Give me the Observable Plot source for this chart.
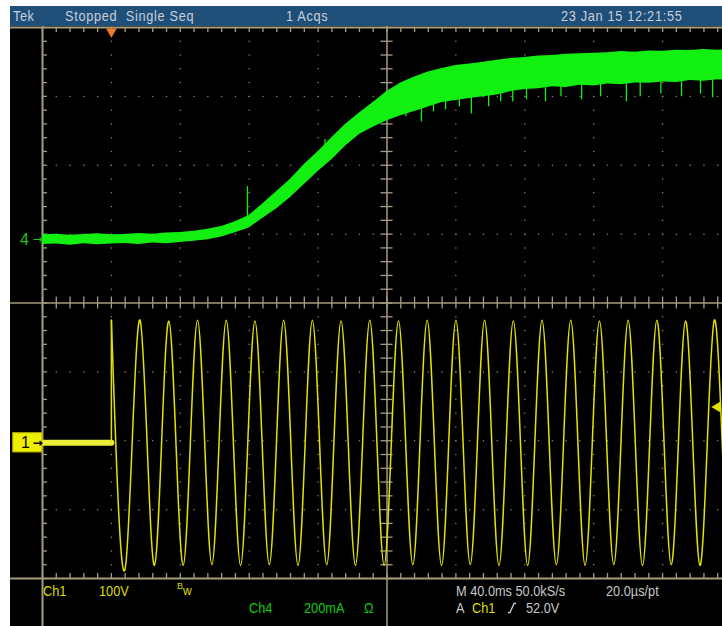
<!DOCTYPE html>
<html><head><meta charset="utf-8">
<script src="https://cdn.jsdelivr.net/npm/d3@7"></script>
<script src="https://cdn.jsdelivr.net/npm/@observablehq/plot@0.6"></script>
<style>
body{margin:0;background:#fff;width:722px;height:626px;overflow:hidden;position:relative;font-family:"Liberation Sans",Arial,sans-serif;}
#hdr{position:absolute;left:10px;top:6px;width:712px;height:20px;background:#1f4e79;}
#plot{position:absolute;left:10px;top:26px;width:712px;height:600px;background:#000;overflow:hidden;}
.t{position:absolute;font-size:15px;line-height:15px;white-space:pre;transform:scaleX(0.85);transform-origin:0 50%;}
</style></head><body>
<div id="hdr"></div>
<div id="plot"></div>
<script>
// ---- Channel 4 (current, mA) : envelope of the noisy trace ----
const ch4Time  = [-40, -32, -24, -16, -8, 0, 8, 16, 24, 32, 40, 48, 56, 64, 72, 80, 88, 96, 104, 112, 120, 128, 136, 144, 152, 160, 168, 176, 184, 192, 200, 208, 216, 224, 232, 240, 248, 256, 264, 272, 280, 288, 296, 304, 312, 320, 328, 336, 344, 352, 360];
const ch4Upper = [14, 16, 13, 15, 17, 14, 15, 18, 16, 19, 21, 24, 30, 38, 52, 70, 104, 140, 175, 218, 255, 296, 335, 368, 398, 430, 455, 472, 487, 497, 506, 510, 515, 521, 526, 529, 533, 535, 538, 540, 541, 543, 546, 544, 548, 547, 550, 549, 552, 550, 552];
const ch4Lower = [-14, -13, -16, -12, -15, -13, -11, -14, -10, -12, -8, -5, 0, 8, 20, 34, 62, 90, 122, 160, 198, 232, 272, 305, 326, 345, 360, 372, 385, 398, 404, 410, 415, 420, 430, 436, 438, 444, 442, 448, 446, 452, 450, 455, 454, 458, 456, 462, 460, 464, 462];
// noise spikes on channel 4
const spikeTime = [79, 124, 141, 171, 180, 187, 194, 202, 209, 219, 226, 233, 241, 252, 261, 273, 284, 299, 307, 319, 331, 342, 349];
const spikeLow  = [67, 250, 299, 357, 342, 371, 377, 386, 365, 386, 400, 400, 406, 400, 415, 406, 415, 400, 415, 423, 415, 423, 412];
const spikeHigh = [154, 290, 340, 440, 460, 470, 480, 490, 490, 500, 505, 510, 515, 520, 525, 530, 530, 535, 540, 540, 540, 545, 545];

// ---- Channel 1 (voltage, V) ----
const ch1PreTime = [-40, 0];
const ch1PreVolt = [0, 0];
const ch1PeakTime = [0, 8.33, 16.67, 25, 33.33, 41.67, 50, 58.33, 66.67, 75, 83.33, 91.67, 100, 108.33, 116.67, 125, 133.33, 141.67, 150, 158.33, 166.67, 175, 183.33, 191.67, 200, 208.33, 216.67, 225, 233.33, 241.67, 250, 258.33, 266.67, 275, 283.33, 291.67, 300, 308.33, 316.67, 325, 333.33, 341.67, 350, 358.33, 366.67];
const ch1PeakVolt = [178, -177, 178, -178, 177, -178, 178, -177, 178, -178, 177, -177, 178, -178, 178, -177, 177, -178, 178, -178, 177, -177, 178, -178, 178, -177, 178, -178, 177, -178, 178, -177, 178, -178, 177, -177, 178, -178, 178, -177, 177, -178, 178, -178, 177];

// ---- scope settings ----
const ch1VoltsPerDiv = 100, ch4MilliampsPerDiv = 200;
const ch1Position = -2.03, ch4Position = 0.92;   // divisions
const triggerTime = 0, triggerLevel = 52;        // ms, V
const timeDomain = [-40, 360];                   // ms (40 ms/div)
const divDomain = [-4, 4];

const majorX = d3.range(0, 11).map(i => -40 + i * 40);
const minorX = d3.range(0, 51).map(i => -40 + i * 8);
const majorY = d3.range(-4, 5);
const minorY = d3.range(-20, 21).map(i => i / 5);
const centerX = 160, centerY = 0;

const ch4 = ch4Time.map((t, i) => ({t, hi: ch4Upper[i], lo: ch4Lower[i]}));
const spikes = spikeTime.map((t, i) => ({t, lo: spikeLow[i], hi: spikeHigh[i]}));
const ch1Pre = ch1PreTime.map((t, i) => ({t, v: ch1PreVolt[i]}));
const ch1Wave = ch1PeakTime.map((t, i) => ({t, v: ch1PeakVolt[i]}));

const d4 = v => v / ch4MilliampsPerDiv + ch4Position;
const d1 = v => v / ch1VoltsPerDiv + ch1Position;

const gridDots = [];
for (const gx of majorX) if (gx !== timeDomain[0] && gx !== timeDomain[1] && gx !== centerX)
  for (const my of minorY) gridDots.push({x: gx, y: my});
for (const gy of majorY) if (Math.abs(gy) !== 4 && gy !== centerY)
  for (const mx of minorX) gridDots.push({x: mx, y: gy});

const grat = "#a59d80", dotc = "#8c8672";
const green = "#12f012", yellow = "#e2e200";
const tickY = 0.073, tickX = 2.9, cTickY = 0.087, cTickX = 3.5;

const chart = Plot.plot({
  width: 712, height: 600, margin: 0,
  x: {domain: timeDomain, range: [32, 721], axis: null},
  y: {domain: divDomain, range: [552, 1], axis: null},
  style: {background: "black", overflow: "hidden"},
  marks: [
    Plot.dot(gridDots, {x: "x", y: "y", r: 0.75, fill: dotc}),
    // center cross
    Plot.ruleX([centerX], {stroke: grat, strokeWidth: 1.5}),
    Plot.ruleY([centerY], {stroke: grat, strokeWidth: 1.5}),
    Plot.ruleX(minorX, {x: d => d, y1: centerY - cTickY, y2: centerY + cTickY, stroke: grat, strokeWidth: 1.3}),
    Plot.ruleY(minorY, {y: d => d, x1: centerX - cTickX, x2: centerX + cTickX, stroke: grat, strokeWidth: 1.3}),
    // border
    Plot.ruleX(timeDomain, {stroke: grat, strokeWidth: 2}),
    Plot.ruleY(divDomain, {stroke: grat, strokeWidth: 2}),
    Plot.ruleX(minorX, {x: d => d, y1: divDomain[1], y2: divDomain[1] - tickY, stroke: grat, strokeWidth: 1.3}),
    Plot.ruleX(minorX, {x: d => d, y1: divDomain[0], y2: divDomain[0] + tickY, stroke: grat, strokeWidth: 1.3}),
    Plot.ruleY(minorY, {y: d => d, x1: timeDomain[0], x2: timeDomain[0] + tickX, stroke: grat, strokeWidth: 1.3}),
    Plot.ruleY(minorY, {y: d => d, x1: timeDomain[1], x2: timeDomain[1] - tickX, stroke: grat, strokeWidth: 1.3}),
    // channel 4 trace
    Plot.areaY(ch4, {x: "t", y1: d => d4(d.lo), y2: d => d4(d.hi), fill: green, curve: "linear"}),
    Plot.ruleX(spikes, {x: "t", y1: d => d4(d.lo), y2: d => d4(d.hi), stroke: green, strokeWidth: 1.3}),
    // channel 1 trace
    Plot.line(ch1Pre, {x: "t", y: d => d1(d.v), stroke: "#ecec3a", strokeWidth: 6}),
    Plot.ruleX([triggerTime], {y1: d1(0), y2: d1(ch1PeakVolt[0]), stroke: yellow, strokeWidth: 1.5}),
    Plot.line(ch1Wave, {x: "t", y: d => d1(d.v), curve: "natural", stroke: yellow, strokeWidth: 1.5}),
    // channel markers
    Plot.text(["4"], {x: timeDomain[0], y: ch4Position, dx: -18, text: d => d, fill: "#22c022", fontSize: 16, fontFamily: "Liberation Sans"}),
    Plot.text(["→"], {x: timeDomain[0], y: ch4Position, dx: -5, text: d => d, fill: "#22c022", fontSize: 12, fontFamily: "DejaVu Sans"}),
    Plot.rect([ch1Position], {x1: -57, x2: timeDomain[0], y1: d => d - 0.14, y2: d => d + 0.14, fill: "#eeee00", stroke: "#b0b000"}),
    Plot.text(["1"], {x: timeDomain[0], y: ch1Position, dx: -17, text: d => d, fill: "#000", fontSize: 16, fontFamily: "Liberation Sans"}),
    Plot.text(["→"], {x: timeDomain[0], y: ch1Position, dx: -5, text: d => d, fill: "#000", fontSize: 12, fontFamily: "DejaVu Sans", fontWeight: "bold"}),
    // trigger markers
    Plot.dot([triggerTime], {x: d => d, y: divDomain[1], dy: 4, symbol: "triangle", rotate: 180, r: 4, fill: "#f07a2a"}),
    Plot.dot([triggerLevel], {x: timeDomain[1], y: d => d1(d), dx: -14, symbol: "triangle", rotate: -90, r: 4, fill: yellow})
  ]
});
document.getElementById("plot").appendChild(chart);

// ---- readouts ----
const W = "#c6ced9", Y = "#dede00", G = "#10cc10", F = "#c8c8c8";
const readouts = [
  {t: "Tek", x: 13, y: 8, c: W, ls: 0.6},
  {t: "Stopped  Single Seq", x: 65, y: 8, c: W, ls: 0.8},
  {t: "1 Acqs", x: 286, y: 8, c: W, ls: 0.8},
  {t: "23 Jan 15 12:21:55", x: 561, y: 8, c: W, ls: 0.8},
  {t: "Ch1", x: 43, y: 583, c: Y},
  {t: "100V", x: 99, y: 583, c: Y},
  {t: "Ch4", x: 249, y: 600, c: G},
  {t: "200mA", x: 304, y: 600, c: G},
  {t: "Ω", x: 364, y: 600, c: G},
  {t: "M 40.0ms 50.0kS/s", x: 456, y: 583, c: F},
  {t: "20.0µs/pt", x: 606, y: 583, c: F},
  {t: "A", x: 456, y: 600, c: F},
  {t: "Ch1", x: 472, y: 600, c: Y},
  {t: "52.0V", x: 526, y: 600, c: F}
];
for (const r of readouts) {
  const s = document.createElement("div");
  s.className = "t";
  s.textContent = r.t;
  s.style.left = r.x + "px"; s.style.top = r.y + "px"; s.style.color = r.c;
  if (r.ls) s.style.letterSpacing = r.ls + "px";
  document.body.appendChild(s);
}
// bandwidth-limit glyph "Bw"
const b = document.createElement("div");
b.style.cssText = "position:absolute;left:177px;top:582px;font-size:9px;line-height:9px;color:" + Y;
b.textContent = "B"; document.body.appendChild(b);
const w = document.createElement("div");
w.style.cssText = "position:absolute;left:183px;top:585px;font-size:12px;line-height:12px;color:" + Y;
w.textContent = "w"; document.body.appendChild(w);
// rising-edge slope glyph
const slope = document.createElementNS("http://www.w3.org/2000/svg", "svg");
slope.setAttribute("width", 10); slope.setAttribute("height", 12);
slope.style.cssText = "position:absolute;left:507px;top:602px;";
slope.innerHTML = '<path d="M1,10.5 L3,10.5 L7,1.5 L9,1.5" fill="none" stroke="' + F + '" stroke-width="1.3"/>';
document.body.appendChild(slope);
</script>
</body></html>
